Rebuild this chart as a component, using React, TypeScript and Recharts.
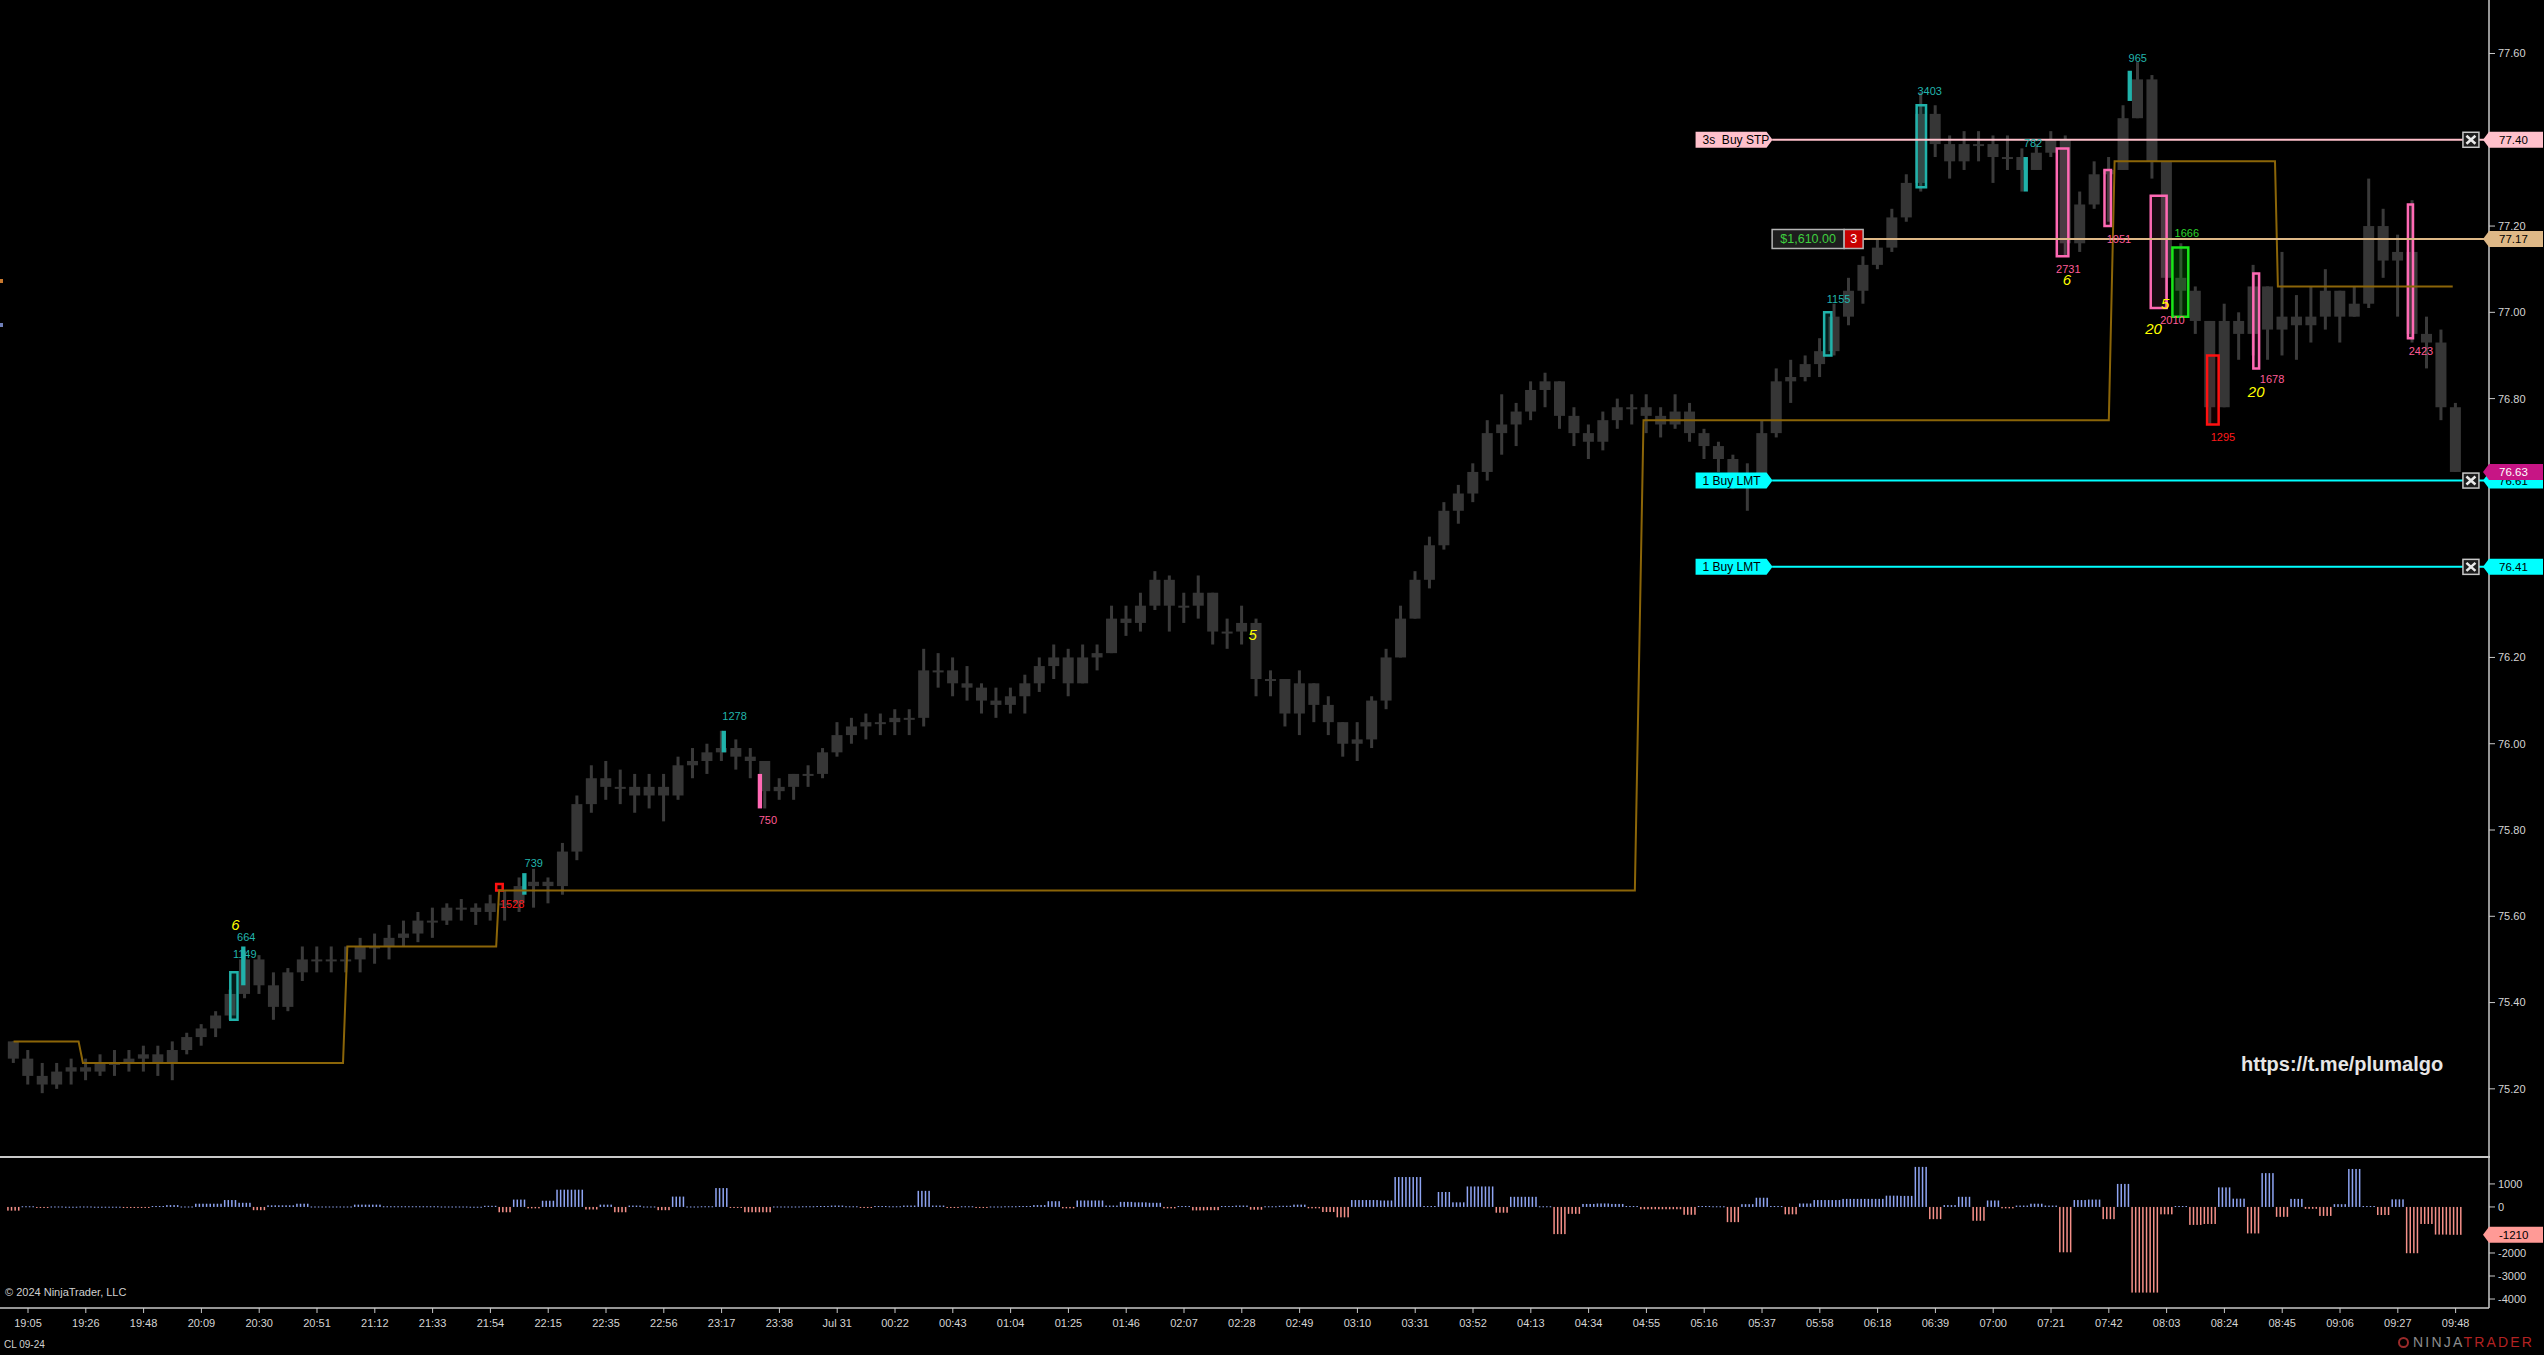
import {
  ComposedChart,
  Bar,
  Line,
  XAxis,
  YAxis,
  ReferenceLine,
  ReferenceArea,
  ReferenceDot,
} from "recharts";

// ── Data ─────────────────────────────────────────────────────────────────────

const timeLabels = [
  "19:05", "19:26", "19:48", "20:09", "20:30", "20:51", "21:12", "21:33", "21:54", "22:15",
  "22:35", "22:56", "23:17", "23:38", "Jul 31", "00:22", "00:43", "01:04", "01:25", "01:46",
  "02:07", "02:28", "02:49", "03:10", "03:31", "03:52", "04:13", "04:34", "04:55", "05:16",
  "05:37", "05:58", "06:18", "06:39", "07:00", "07:21", "07:42", "08:03", "08:24", "08:45",
  "09:06", "09:27", "09:48",
];

const firstOpen = 75.31;

const closes = [
  75.27, 75.23, 75.21, 75.24, 75.25, 75.24, 75.26, 75.26, 75.27, 75.28,
  75.26, 75.29, 75.32, 75.34, 75.37, 75.42, 75.50, 75.44, 75.39, 75.47,
  75.50, 75.50, 75.50, 75.50, 75.53, 75.53, 75.55, 75.56, 75.59, 75.59,
  75.62, 75.62, 75.61, 75.63, 75.63, 75.67, 75.68, 75.67, 75.75, 75.86,
  75.92, 75.90, 75.90, 75.88, 75.90, 75.88, 75.95, 75.96, 75.98, 75.99,
  75.97, 75.96, 75.89, 75.90, 75.93, 75.93, 75.98, 76.02, 76.04, 76.05,
  76.05, 76.06, 76.06, 76.17, 76.17, 76.14, 76.13, 76.10, 76.09, 76.11,
  76.14, 76.18, 76.20, 76.14, 76.20, 76.21, 76.29, 76.28, 76.32, 76.38,
  76.32, 76.32, 76.35, 76.26, 76.26, 76.28, 76.15, 76.15, 76.07, 76.14,
  76.09, 76.05, 76.00, 76.01, 76.10, 76.20, 76.29, 76.38, 76.46, 76.54,
  76.58, 76.63, 76.72, 76.74, 76.77, 76.82, 76.84, 76.76, 76.72, 76.70,
  76.75, 76.78, 76.78, 76.76, 76.74, 76.77, 76.72, 76.69, 76.66, 76.61,
  76.61, 76.72, 76.84, 76.85, 76.88, 76.91, 76.99, 77.05, 77.11, 77.15,
  77.22, 77.30, 77.46, 77.39, 77.35, 77.39, 77.39, 77.36, 77.36, 77.33,
  77.37, 77.40, 77.16, 77.25, 77.32, 77.33, 77.45, 77.54, 77.35, 77.08,
  77.05, 76.98, 76.78, 76.98, 76.95, 77.06, 76.96, 76.99, 76.97, 76.99,
  77.05, 76.99, 77.02, 77.20, 77.12, 77.14, 76.95, 76.93, 76.78, 76.63,
];

const highs = [
  75.31, 75.29, 75.26, 75.26, 75.27, 75.27, 75.28, 75.29, 75.29, 75.30,
  75.30, 75.31, 75.33, 75.35, 75.38, 75.43, 75.52, 75.51, 75.47, 75.48,
  75.53, 75.53, 75.53, 75.53, 75.55, 75.56, 75.58, 75.59, 75.61, 75.62,
  75.63, 75.64, 75.63, 75.65, 75.66, 75.69, 75.71, 75.69, 75.77, 75.88,
  75.95, 75.96, 75.94, 75.93, 75.93, 75.93, 75.97, 75.99, 76.00, 76.03,
  76.01, 75.99, 75.94, 75.92, 75.93, 75.95, 75.99, 76.05, 76.06, 76.07,
  76.07, 76.08, 76.08, 76.22, 76.21, 76.20, 76.18, 76.14, 76.13, 76.13,
  76.16, 76.20, 76.23, 76.22, 76.23, 76.23, 76.32, 76.32, 76.35, 76.40,
  76.39, 76.35, 76.39, 76.35, 76.29, 76.32, 76.29, 76.17, 76.15, 76.17,
  76.14, 76.11, 76.05, 76.05, 76.11, 76.22, 76.32, 76.40, 76.48, 76.56,
  76.60, 76.65, 76.75, 76.81, 76.79, 76.84, 76.86, 76.84, 76.78, 76.74,
  76.77, 76.80, 76.81, 76.81, 76.78, 76.81, 76.79, 76.73, 76.70, 76.67,
  76.65, 76.75, 76.87, 76.89, 76.90, 76.94, 77.02, 77.08, 77.13, 77.17,
  77.24, 77.32, 77.51, 77.48, 77.41, 77.42, 77.42, 77.41, 77.41, 77.38,
  77.39, 77.42, 77.41, 77.28, 77.35, 77.36, 77.48, 77.58, 77.55, 77.35,
  77.16, 77.06, 76.98, 77.02, 77.00, 77.11, 77.06, 77.14, 77.04, 77.06,
  77.10, 77.05, 77.06, 77.31, 77.24, 77.18, 77.26, 76.99, 76.96, 76.79,
];

const lows = [
  75.26, 75.21, 75.19, 75.20, 75.21, 75.22, 75.23, 75.23, 75.24, 75.24,
  75.23, 75.22, 75.28, 75.30, 75.32, 75.36, 75.41, 75.42, 75.36, 75.38,
  75.45, 75.47, 75.47, 75.47, 75.47, 75.49, 75.50, 75.53, 75.54, 75.55,
  75.58, 75.59, 75.58, 75.59, 75.59, 75.61, 75.62, 75.63, 75.65, 75.73,
  75.84, 75.87, 75.86, 75.84, 75.85, 75.82, 75.87, 75.92, 75.93, 75.96,
  75.94, 75.92, 75.85, 75.87, 75.87, 75.90, 75.92, 75.97, 76.00, 76.01,
  76.02, 76.02, 76.02, 76.04, 76.13, 76.11, 76.10, 76.07, 76.06, 76.07,
  76.07, 76.12, 76.15, 76.11, 76.14, 76.17, 76.21, 76.25, 76.26, 76.31,
  76.26, 76.28, 76.29, 76.23, 76.22, 76.23, 76.11, 76.11, 76.04, 76.02,
  76.05, 76.02, 75.97, 75.96, 75.99, 76.08, 76.20, 76.29, 76.36, 76.45,
  76.51, 76.56, 76.61, 76.67, 76.69, 76.75, 76.78, 76.73, 76.69, 76.66,
  76.68, 76.73, 76.74, 76.72, 76.71, 76.73, 76.70, 76.66, 76.63, 76.59,
  76.54, 76.61, 76.71, 76.79, 76.84, 76.85, 76.90, 76.97, 77.02, 77.10,
  77.14, 77.21, 77.28, 77.36, 77.31, 77.33, 77.35, 77.30, 77.33, 77.28,
  77.33, 77.36, 77.13, 77.14, 77.24, 77.21, 77.33, 77.45, 77.31, 77.01,
  76.99, 76.95, 76.74, 76.78, 76.89, 76.90, 76.89, 76.90, 76.89, 76.93,
  76.96, 76.93, 76.99, 77.01, 77.08, 76.99, 76.93, 76.87, 76.75, 76.63,
];

// order-flow delta histogram (lower panel)
const deltas = [
  -160, 30, -20, 20, 10, 20, 10, 10, -20, -20,
  40, 80, 20, 140, 140, 300, 180, -140, 70, 70,
  140, 20, 20, 20, 100, 100, 30, 30, 30, 30,
  20, 20, 10, 50, -230, 320, -60, 270, 750, 750,
  -110, 100, -230, 60, 20, -140, 450, 20, 30, 820,
  -30, -230, -230, 20, 20, 30, 40, 60, 30, -30,
  40, 30, 60, 700, 60, -40, 30, -30, 20, 30,
  40, 80, 250, -60, 280, 280, 60, 220, 200, 180,
  -60, 40, -150, -140, 40, 60, -120, 30, 50, 100,
  -60, -220, -450, 300, 300, 280, 1300, 1300, 40, 650,
  200, 890, 890, -250, 440, 440, 30, -1180, -300, 130,
  150, 130, 40, -100, -100, -100, -340, 40, 30, -660,
  120, 400, 40, -320, 150, 300, 300, 350, 350, 350,
  490, 480, 1740, -530, 80, 440, -600, 280, -60, 60,
  140, 60, -1970, 300, 320, -530, 1000, -3720, -3720, -320,
  40, -780, -740, 850, 360, -1150, 1470, -430, 350, -80,
  -390, 120, 1650, 40, -350, 330, -2010, -740, -1200, -1210,
];

// stepped level line (bar index, price)
const stepBars = [0, 4.5, 4.8, 22.8, 23.1, 33.4, 33.6, 112.2, 112.8, 145.0, 145.4, 156.5, 156.7, 168.8];
const stepLevels = [75.31, 75.31, 75.26, 75.26, 75.53, 75.53, 75.66, 75.66, 76.75, 76.75, 77.35, 77.35, 77.06, 77.06];

const priceTicks = [75.2, 75.4, 75.6, 75.8, 76.0, 76.2, 76.8, 77.0, 77.2, 77.6];
const deltaTicks = [1000, 0, -2000, -3000, -4000];

// working orders
const orderPrices = [77.4, 77.17, 76.61, 76.41];
const orderColors = ["#ffc0cb", "#deb887", "#00ffff", "#00ffff"];
const orderStarts = [121.7, 128.0, 121.7, 121.7];
const orderTags = ["3s  Buy STP", "", "1 Buy LMT", "1 Buy LMT"];
const cancelPrices = [77.4, 76.61, 76.41];
const position = { price: 77.17, pnl: "$1,610.00", qty: "3" };

const axisTagPrices = [77.4, 77.17, 76.61, 76.63, 76.41];
const axisTagBg = ["#ffc0cb", "#deb887", "#00ffff", "#c71585", "#00ffff"];
const axisTagFg = ["#000", "#000", "#000", "#fff", "#000"];

// signal boxes: [x1, x2, yLow, yHigh, kind]
const outlineBoxes: [number, number, number, number, string][] = [
  [15.0, 15.5, 75.36, 75.47, "cyan"],
  [125.3, 125.8, 76.9, 77.0, "cyan"],
  [131.7, 132.35, 77.29, 77.48, "cyan"],
  [141.4, 142.2, 77.13, 77.38, "pink"],
  [144.7, 145.15, 77.2, 77.33, "pink"],
  [147.9, 149.0, 77.01, 77.27, "pink"],
  [155.0, 155.4, 76.87, 77.09, "pink"],
  [165.7, 166.05, 76.94, 77.25, "pink"],
  [149.4, 150.5, 76.99, 77.15, "green"],
  [151.8, 152.6, 76.74, 76.9, "red"],
  [33.4, 33.85, 75.66, 75.675, "red"],
];
const solidBars: [number, number, number, number, string][] = [
  [15.75, 16.05, 75.44, 75.53, "cyan"],
  [35.2, 35.5, 75.65, 75.7, "cyan"],
  [49.0, 49.3, 75.98, 76.03, "cyan"],
  [139.1, 139.4, 77.28, 77.36, "cyan"],
  [146.3, 146.6, 77.49, 77.56, "cyan"],
  [51.5, 51.8, 75.85, 75.93, "pink"],
];

// text annotations: [bar index, price, text, kind]
const notes: [number, number, string, string][] = [
  [15.35, 75.58, "6", "yellow"],
  [16.1, 75.553, "664", "cyan"],
  [16.0, 75.512, "1149", "cyan"],
  [36.0, 75.723, "739", "cyan"],
  [34.5, 75.628, "1528", "red"],
  [49.9, 76.065, "1278", "cyan"],
  [52.2, 75.824, "750", "pink"],
  [85.75, 76.253, "5", "yellow"],
  [126.3, 77.032, "1155", "cyan"],
  [132.6, 77.513, "3403", "cyan"],
  [139.75, 77.393, "782", "cyan"],
  [142.2, 77.1, "2731", "pink"],
  [142.1, 77.075, "6", "yellow"],
  [145.7, 77.17, "1051", "pink"],
  [147.0, 77.59, "965", "cyan"],
  [149.4, 76.982, "2010", "pink"],
  [148.9, 77.02, "5", "yellow"],
  [148.1, 76.962, "20", "yellow"],
  [150.4, 77.183, "1666", "green"],
  [152.9, 76.712, "1295", "red"],
  [156.3, 76.845, "1678", "pink"],
  [155.2, 76.815, "20", "yellow"],
  [166.6, 76.911, "2423", "pink"],
];

// ── Layout constants ─────────────────────────────────────────────────────────

const X_MIN = -0.938;
const X_MAX = 171.31;
const P_MIN = 75.042;
const P_MAX = 77.724;
const D_MIN = -4390;
const D_MAX = 2170;
const FONT = '"Liberation Sans", Arial, Helvetica, sans-serif';

const STROKE: Record<string, string> = {
  cyan: "#20b2aa",
  pink: "#ff69b4",
  green: "#19e619",
  red: "#ff1010",
};
const FILL: Record<string, string> = {
  cyan: "rgba(32,178,170,0.16)",
  pink: "rgba(255,105,180,0.10)",
  green: "rgba(0,200,0,0.20)",
  red: "rgba(255,0,0,0.06)",
};
const NOTE_COLOR: Record<string, string> = {
  cyan: "#22b5ad",
  pink: "#ff5c96",
  green: "#2bd42b",
  red: "#ff1a1a",
  yellow: "#ffff00",
};

const rows = closes.map((c, i) => ({
  i,
  open: i === 0 ? firstOpen : closes[i - 1],
  close: c,
  high: highs[i],
  low: lows[i],
  range: [lows[i], highs[i]],
  delta: deltas[i],
}));

const stepData = stepBars.map((b, k) => ({ i: b, level: stepLevels[k] }));
const tickBars = timeLabels.map((_, k) => 4 * k + 1);

// ── Shapes ───────────────────────────────────────────────────────────────────

function Candle(props: any) {
  const { x, y, width, height, payload } = props;
  if (x == null || y == null || !payload) return null;
  const top = Math.min(y, y + height);
  const h = Math.abs(height);
  const span = payload.high - payload.low;
  const k = span > 0 ? h / span : 0;
  const cx = x + width / 2;
  const bodyTop = top + (payload.high - Math.max(payload.open, payload.close)) * k;
  const bodyH = Math.max(2, Math.abs(payload.open - payload.close) * k);
  return (
    <g>
      <rect x={cx - 1.5} y={top} width={3} height={Math.max(h, 1)} fill="#3a3a3a" />
      <rect x={cx - 5.5} y={bodyTop} width={11} height={bodyH} fill="#363636" />
    </g>
  );
}

function DeltaBars(props: any) {
  const { x, y, width, height, payload } = props;
  if (x == null || y == null || !payload) return null;
  const top = Math.min(y, y + height);
  const h = Math.max(1, Math.abs(height));
  const color = payload.delta >= 0 ? "#8ea4f2" : "#f59089";
  const cx = x + width / 2;
  return (
    <g>
      {[-5.4, -1.8, 1.8, 5.4].map((o) => (
        <rect key={o} x={cx + o - 0.75} y={top} width={1.5} height={h} fill={color} />
      ))}
    </g>
  );
}

const orderTag = (text: string, bg: string) => (p: any) => (
  <g>
    <path d={`M${p.cx},${p.cy - 8} h71 l6,8 l-6,8 h-71 Z`} fill={bg} />
    <text
      x={p.cx + 7}
      y={p.cy + 4}
      fontSize={12}
      fill="#000"
      fontFamily={FONT}
      style={{ whiteSpace: "pre" }}
    >
      {text}
    </text>
  </g>
);

const positionTag = (p: any) => (
  <g fontFamily={FONT}>
    <rect x={p.cx} y={p.cy - 9.5} width={72} height={19} fill="#1e1e1e" stroke="#b4b4b4" strokeWidth={1.5} />
    <text x={p.cx + 36} y={p.cy + 4.5} fontSize={12.5} fill="#3fcf3f" textAnchor="middle">
      {position.pnl}
    </text>
    <rect x={p.cx + 72} y={p.cy - 9.5} width={19} height={19} fill="#c80000" stroke="#b4b4b4" strokeWidth={1.5} />
    <text x={p.cx + 81.5} y={p.cy + 4.5} fontSize={12.5} fill="#fff" textAnchor="middle">
      {position.qty}
    </text>
  </g>
);

const cancelBox = (p: any) => (
  <g>
    <rect x={p.cx - 8} y={p.cy - 7.5} width={16} height={15} fill="#1c1c1c" stroke="#c8c8c8" strokeWidth={1.5} />
    <path
      d={`M${p.cx - 4.5},${p.cy - 4} L${p.cx + 4.5},${p.cy + 4} M${p.cx + 4.5},${p.cy - 4} L${p.cx - 4.5},${p.cy + 4}`}
      stroke="#e8e8e8"
      strokeWidth={2.6}
    />
  </g>
);

const axisTag = (text: string, bg: string, fg: string) => (p: any) => (
  <g>
    <path d={`M${p.cx - 6},${p.cy} L${p.cx},${p.cy - 8} H${p.cx + 54} V${p.cy + 8} H${p.cx} Z`} fill={bg} />
    <text x={p.cx + 10} y={p.cy + 4} fontSize={11.5} fill={fg} fontFamily={FONT}>
      {text}
    </text>
  </g>
);

const noteShape = (text: string, kind: string) => (p: any) => {
  const big = kind === "yellow";
  return (
    <text
      x={p.cx}
      y={p.cy}
      dy={big ? 5 : 4}
      fontSize={big ? 15 : 11}
      fontStyle={big ? "italic" : "normal"}
      fill={NOTE_COLOR[kind]}
      textAnchor="middle"
      fontFamily={FONT}
    >
      {text}
    </text>
  );
};

// ── App ──────────────────────────────────────────────────────────────────────

export default function App() {
  const last = deltas[deltas.length - 1];
  return (
    <div
      style={{
        position: "relative",
        width: 2544,
        height: 1355,
        background: "#000",
        fontFamily: FONT,
        overflow: "hidden",
      }}
    >
      <style>{`body{margin:0;background:#000}`}</style>

      {/* price panel: candles + price axis */}
      <div style={{ position: "absolute", left: 0, top: 0 }}>
        <ComposedChart
          width={2544}
          height={1157}
          data={rows}
          margin={{ top: 0, right: 0, left: 0, bottom: 0 }}
        >
          <XAxis dataKey="i" type="number" domain={[X_MIN, X_MAX]} allowDataOverflow hide />
          <YAxis
            orientation="right"
            type="number"
            domain={[P_MIN, P_MAX]}
            allowDataOverflow
            ticks={priceTicks}
            tickFormatter={(v: number) => v.toFixed(2)}
            width={55}
            tick={{ fill: "#d4d4d4", fontSize: 11 }}
            axisLine={{ stroke: "#c8c8c8", strokeWidth: 1.5 }}
            tickLine={{ stroke: "#c8c8c8" }}
            tickSize={6}
            tickMargin={3}
          />
          <Bar dataKey="range" barSize={14} shape={Candle} isAnimationActive={false} />
        </ComposedChart>
      </div>

      {/* price panel overlay: level line, signals, orders (same scales) */}
      <div style={{ position: "absolute", left: 0, top: 0 }}>
        <ComposedChart
          width={2544}
          height={1157}
          data={rows}
          margin={{ top: 0, right: 55, left: 0, bottom: 0 }}
        >
          <XAxis dataKey="i" type="number" domain={[X_MIN, X_MAX]} allowDataOverflow hide />
          <YAxis type="number" domain={[P_MIN, P_MAX]} allowDataOverflow hide />

          <Line
            data={stepData}
            dataKey="level"
            type="linear"
            stroke="#8b6508"
            strokeWidth={2}
            dot={false}
            activeDot={false}
            isAnimationActive={false}
          />

          {outlineBoxes.map(([x1, x2, lo, hi, kind], k) => (
            <ReferenceArea
              key={`ob${k}`}
              x1={x1}
              x2={x2}
              y1={lo}
              y2={hi}
              stroke={STROKE[kind]}
              strokeWidth={2.5}
              fill={FILL[kind]}
              fillOpacity={1}
            />
          ))}
          {solidBars.map(([x1, x2, lo, hi, kind], k) => (
            <ReferenceArea
              key={`sb${k}`}
              x1={x1}
              x2={x2}
              y1={lo}
              y2={hi}
              stroke="none"
              fill={STROKE[kind]}
              fillOpacity={1}
            />
          ))}

          {orderPrices.map((p, k) => (
            <ReferenceLine
              key={`ol${k}`}
              segment={[
                { x: orderStarts[k], y: p },
                { x: X_MAX, y: p },
              ]}
              stroke={orderColors[k]}
              strokeWidth={2}
            />
          ))}
          {orderPrices.map((p, k) =>
            orderTags[k] ? (
              <ReferenceDot key={`ot${k}`} x={116.4} y={p} shape={orderTag(orderTags[k], orderColors[k])} />
            ) : null
          )}
          <ReferenceDot x={121.7} y={position.price} shape={positionTag} />
          {cancelPrices.map((p, k) => (
            <ReferenceDot key={`cx${k}`} x={170.06} y={p} shape={cancelBox} />
          ))}

          {notes.map(([x, y, text, kind], k) => (
            <ReferenceDot key={`n${k}`} x={x} y={y} shape={noteShape(text, kind)} />
          ))}

          {axisTagPrices.map((p, k) => (
            <ReferenceDot
              key={`at${k}`}
              x={X_MAX}
              y={p}
              shape={axisTag(p.toFixed(2), axisTagBg[k], axisTagFg[k])}
            />
          ))}
        </ComposedChart>
      </div>

      {/* delta panel */}
      <div style={{ position: "absolute", left: 0, top: 1157 }}>
        <ComposedChart
          width={2544}
          height={198}
          data={rows}
          margin={{ top: 0, right: 0, left: 0, bottom: 0 }}
        >
          <XAxis
            dataKey="i"
            type="number"
            domain={[X_MIN, X_MAX]}
            allowDataOverflow
            ticks={tickBars}
            interval={0}
            tickFormatter={(v: number) => timeLabels[Math.round((v - 1) / 4)]}
            height={47}
            tick={{ fill: "#d4d4d4", fontSize: 11 }}
            axisLine={{ stroke: "#c8c8c8", strokeWidth: 1.5 }}
            tickLine={{ stroke: "#c8c8c8" }}
            tickSize={5}
            tickMargin={6}
          />
          <YAxis
            orientation="right"
            type="number"
            domain={[D_MIN, D_MAX]}
            allowDataOverflow
            ticks={deltaTicks}
            width={55}
            tick={{ fill: "#d4d4d4", fontSize: 11 }}
            axisLine={{ stroke: "#c8c8c8", strokeWidth: 1.5 }}
            tickLine={{ stroke: "#c8c8c8" }}
            tickSize={6}
            tickMargin={3}
          />
          <Bar dataKey="delta" barSize={14} shape={DeltaBars} isAnimationActive={false} />
          <ReferenceDot x={X_MAX} y={last} shape={axisTag(String(last), "#ff9a96", "#000")} />
        </ComposedChart>
      </div>

      {/* panel separator */}
      <div
        style={{
          position: "absolute",
          left: 0,
          top: 1156,
          width: 2490,
          height: 0,
          borderTop: "2px solid #c8c8c8",
        }}
      />

      {/* off-screen markers on the left edge */}
      <div style={{ position: "absolute", left: 0, top: 279, width: 3, height: 4, background: "#c8782e" }} />
      <div style={{ position: "absolute", left: 0, top: 323, width: 3, height: 4, background: "#6f7fb8" }} />

      <div
        style={{
          position: "absolute",
          left: 2241,
          top: 1053,
          fontSize: 20,
          fontWeight: "bold",
          color: "#e6e6e6",
          whiteSpace: "nowrap",
        }}
      >
        https://t.me/plumalgo
      </div>

      <div
        style={{ position: "absolute", left: 5, top: 1286, fontSize: 11, color: "#d0d0d0", whiteSpace: "nowrap" }}
      >
        © 2024 NinjaTrader, LLC
      </div>
      <div
        style={{ position: "absolute", left: 4, top: 1339, fontSize: 10, color: "#d0d0d0", whiteSpace: "nowrap" }}
      >
        CL 09-24
      </div>

      <div
        style={{
          position: "absolute",
          left: 2398,
          top: 1334,
          display: "flex",
          alignItems: "center",
          gap: 4,
          whiteSpace: "nowrap",
        }}
      >
        <div
          style={{
            width: 11,
            height: 11,
            borderRadius: "50%",
            border: "2px solid #9a2a2a",
            boxSizing: "border-box",
          }}
        />
        <span style={{ fontSize: 14, letterSpacing: 2.2, color: "#8c8c8c" }}>
          NINJA<span style={{ color: "#b22222" }}>TRADER</span>
        </span>
      </div>
    </div>
  );
}
